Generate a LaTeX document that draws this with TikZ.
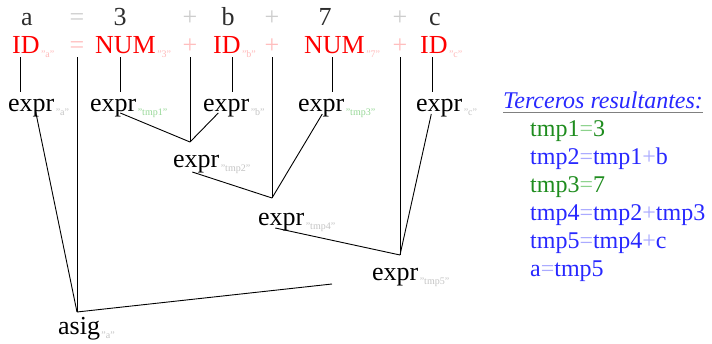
\documentclass[tikz,border=0pt]{standalone}
\usepackage{fontspec}
\setmainfont{Liberation Serif}
\usepackage{xcolor}
\usetikzlibrary{calc}

\definecolor{tokred}{RGB}{255,0,0}
\definecolor{oppink}{RGB}{255,190,190}
\definecolor{subpink}{RGB}{255,185,185}
\definecolor{subgray}{RGB}{195,195,195}
\definecolor{subgreen}{RGB}{150,215,150}
\definecolor{srcgray}{RGB}{45,45,45}
\definecolor{srcop}{RGB}{205,205,205}
\definecolor{tblue}{RGB}{40,40,255}
\definecolor{tblueop}{RGB}{170,170,255}
\definecolor{tgreen}{RGB}{30,140,30}
\definecolor{tgreenop}{RGB}{140,210,140}

\tikzset{
  word/.style={inner sep=0pt, anchor=base west, font=\fontsize{26}{30}\selectfont},
  src/.style={word, anchor=base, text=srcgray},
  srcop/.style={word, anchor=base, text=srcop},
  tok/.style={word, text=tokred},
  tokop/.style={word, anchor=base, text=oppink},
  sub/.style={inner sep=0pt, anchor=base west, yshift=-4pt, xshift=1pt,
    font=\fontsize{10}{10}\selectfont},
  line/.style={line width=0.9pt},
  down/.style={line, shorten <=3pt, shorten >=8pt},
  item/.style={inner sep=0pt, anchor=base west, font=\fontsize{24}{28}\selectfont}
}

\begin{document}
\begin{tikzpicture}[x=1pt, y=-1pt]
  \useasboundingbox (0,0) rectangle (712,344);
  %% source line
  \node[src] (sa) at (27,26) {a};
  \node[srcop] (seq) at (77,26) {=};
  \node[src] (s3) at (120,26) {3};
  \node[srcop] (sp1) at (190,26) {+};
  \node[src] (sb) at (228,26) {b};
  \node[srcop] (sp2) at (272,26) {+};
  \node[src] (s7) at (325,26) {7};
  \node[srcop] (sp3) at (400,26) {+};
  \node[src] (sc) at (435,26) {c};
  %% tokens
  \node[tok] (idA) at (12,54) {ID};
  \node[sub, text=subpink] at (idA.base east) {"a"};
  \node[tokop] (eq) at (77,54) {=};
  \node[tok] (numA) at (95,54) {NUM};
  \node[sub, text=subpink] at (numA.base east) {"3"};
  \node[tokop] (p1) at (190,54) {+};
  \node[tok] (idB) at (213,54) {ID};
  \node[sub, text=subpink] at (idB.base east) {"b"};
  \node[tokop] (p2) at (272,54) {+};
  \node[tok] (numB) at (304,54) {NUM};
  \node[sub, text=subpink] at (numB.base east) {"7"};
  \node[tokop] (p3) at (400,54) {+};
  \node[tok] (idC) at (420,54) {ID};
  \node[sub, text=subpink] at (idC.base east) {"c"};
  %% expressions
  \node[word] (eA) at (8,112) {expr};
  \node[sub, text=subgray] at (eA.base east) {"a"};
  \node[word] (e1) at (90,112) {expr};
  \node[sub, text=subgreen] at (e1.base east) {"tmp1"};
  \node[word] (eB) at (203,112) {expr};
  \node[sub, text=subgray] at (eB.base east) {"b"};
  \node[word] (e3) at (298,112) {expr};
  \node[sub, text=subgreen] at (e3.base east) {"tmp3"};
  \node[word] (eC) at (416,112) {expr};
  \node[sub, text=subgray] at (eC.base east) {"c"};
  \node[word] (e2) at (173,168) {expr};
  \node[sub, text=subgray] at (e2.base east) {"tmp2"};
  \node[word] (e4) at (258,226) {expr};
  \node[sub, text=subgray] at (e4.base east) {"tmp4"};
  \node[word] (e5) at (372,281) {expr};
  \node[sub, text=subgray] at (e5.base east) {"tmp5"};
  \node[word] (asig) at (58,335) {asig};
  \node[sub, text=subgray] at (asig.base east) {"a"};
  %% joins
  \coordinate (j2) at (190,142);
  \coordinate (j4) at (272,198);
  \coordinate (j5) at (400,255);
  \coordinate (jA) at (77,312);
  \coordinate (e5tail) at (332,284);
  %% leaves
  \draw[down] (idA.south -| 20,0) -- (eA.north -| 20,0);
  \draw[down] (numA.south -| 120,0) -- (e1.north -| 120,0);
  \draw[down] (idB.south -| 232,0) -- (eB.north -| 232,0);
  \draw[down] (numB.south -| 332,0) -- (e3.north -| 332,0);
  \draw[down] (idC.south -| 432,0) -- (eC.north -| 432,0);
  %% operators down to their joins
  \draw[line, shorten <=3pt] (eq.south) -- (jA);
  \draw[line, shorten <=3pt] (p1.south) -- (j2);
  \draw[line, shorten <=3pt] (p2.south) -- (j4);
  \draw[line, shorten <=3pt] (p3.south) -- (j5);
  %% operands
  \draw[line] ($(eA.base)+(4,-2)$) -- (jA);
  \draw[line] ($(e1.base)+(7,1)$) -- (j2);
  \draw[line] ($(eB.base)+(-8,1)$) -- (j2);
  \draw[line] ($(e2.base)+(-4,4)$) -- (j4);
  \draw[line] ($(e3.base)+(1,2)$) -- (j4);
  \draw[line] ($(e4.base)+(-6,2)$) -- (j5);
  \draw[line] ($(eC.base)+(-8,2)$) -- (j5);
  \draw[line] (e5tail) -- (jA);
  %% resulting triples
  \node[item, font=\fontsize{24}{28}\selectfont\itshape, text=tblue] (title) at (503,109)
    {Terceros resultantes:};
  \draw[gray, line width=0.8pt] ($(title.base west)+(0,3)$) -- ($(title.base east)+(0,3)$);
  \node[item, text=tgreen] (t1) at (530,137) {tmp1\textcolor{tgreenop}{=}3};
  \node[item, text=tblue] (t2) at (530,165) {tmp2\textcolor{tblueop}{=}tmp1\textcolor{tblueop}{+}b};
  \node[item, text=tgreen] (t3) at (530,193) {tmp3\textcolor{tgreenop}{=}7};
  \node[item, text=tblue] (t4) at (530,221) {tmp4\textcolor{tblueop}{=}tmp2\textcolor{tblueop}{+}tmp3};
  \node[item, text=tblue] (t5) at (530,249) {tmp5\textcolor{tblueop}{=}tmp4\textcolor{tblueop}{+}c};
  \node[item, text=tblue] (t6) at (530,277) {a\textcolor{tblueop}{=}tmp5};
\end{tikzpicture}
\end{document}
